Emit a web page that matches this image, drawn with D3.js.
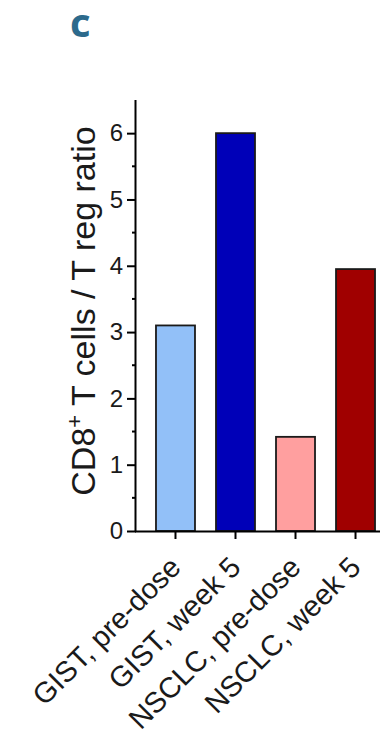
<!DOCTYPE html>
<html>
<head>
<meta charset="utf-8">
<script src="https://cdn.jsdelivr.net/npm/d3@7"></script>
<style>
  body { margin: 0; background: #fff; }
  svg { display: block; }
</style>
</head>
<body>
<div id="chart"></div>
<script>
// data
const categories = ["GIST, pre-dose", "GIST, week 5", "NSCLC, pre-dose", "NSCLC, week 5"];
const ratios = [3.1, 6.0, 1.42, 3.95];
const barColors = ["#92c0f8", "#0000b8", "#ff9f9f", "#a00000"];
const majorTicks = [0, 1, 2, 3, 4, 5, 6];
const minorTicks = [0.5, 1.5, 2.5, 3.5, 4.5, 5.5];

const width = 380, height = 734;
const axisX = 136, baseY = 531, topY = 100;
const font = "'Liberation Sans', Arial, sans-serif";

const svg = d3.select("#chart")
  .append("svg")
    .attr("width", width)
    .attr("height", height);

// panel letter
svg.append("text")
  .text("c")
  .attr("x", 70)
  .attr("y", 37)
  .attr("font-family", "'Open Sans', sans-serif")
  .attr("font-weight", 700)
  .attr("font-size", 40)
  .attr("fill", "#2c6a8c");

const y = d3.scaleLinear()
  .domain([0, 6.5])
  .range([baseY, topY]);

const x = d3.scaleBand()
  .domain(categories)
  .range([axisX, axisX + 259])
  .paddingInner(0.35)
  .paddingOuter(0.333);

// bars
svg.append("g")
  .selectAll("rect")
  .data(categories)
  .join("rect")
    .attr("x", d => x(d))
    .attr("y", (d, i) => y(ratios[i]))
    .attr("width", x.bandwidth())
    .attr("height", (d, i) => y(0) - y(ratios[i]))
    .attr("fill", (d, i) => barColors[i])
    .attr("stroke", "#1a1a1a")
    .attr("stroke-width", 1.8);

// y axis
const yAxis = d3.axisLeft(y)
  .tickValues(majorTicks)
  .tickSize(9)
  .tickPadding(4)
  .tickFormat(d3.format("d"));

const gy = svg.append("g")
  .attr("transform", `translate(${axisX}, 0)`)
  .call(yAxis);

gy.select(".domain").attr("d", `M-0.5,${topY}V${baseY}`);

gy.selectAll(".minor")
  .data(minorTicks)
  .join("line")
    .attr("class", "minor")
    .attr("x1", -4)
    .attr("x2", 0)
    .attr("y1", d => y(d))
    .attr("y2", d => y(d))
    .attr("stroke", "#000")
    .attr("stroke-width", 2);

// x axis
const xAxis = d3.axisBottom(x)
  .tickSize(8)
  .tickSizeOuter(0);

const gx = svg.append("g")
  .attr("transform", `translate(0, ${baseY})`)
  .call(xAxis);

gx.select(".domain").attr("d", `M${axisX - 1},0.5H${width + 40}`);

gx.selectAll(".tick text")
  .attr("text-anchor", "end")
  .attr("dy", null)
  .attr("transform", "translate(7, 38) rotate(-45)")
  .attr("y", 0)
  .attr("x", 0)
  .attr("font-size", 29);

svg.selectAll(".domain, .tick line")
  .attr("stroke", "#000")
  .attr("stroke-width", 2);

svg.selectAll(".tick text")
  .attr("font-family", font)
  .attr("fill", "#1a1a1a");

gy.selectAll(".tick text").attr("font-size", 24);

// y label
const yLabel = svg.append("text")
  .attr("transform", `translate(95, 311) rotate(-90)`)
  .attr("text-anchor", "middle")
  .attr("font-family", font)
  .attr("font-size", 34)
  .attr("fill", "#1a1a1a");

yLabel.append("tspan").text("CD8");
yLabel.append("tspan").text("+").attr("font-size", 22).attr("dy", -13);
yLabel.append("tspan").text(" T cells / T reg ratio").attr("dy", 13);
</script>
</body>
</html>
